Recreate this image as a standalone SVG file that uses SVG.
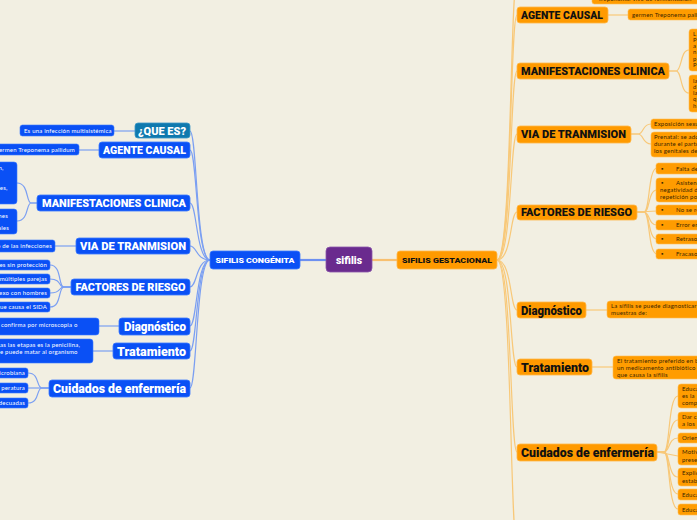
<svg xmlns="http://www.w3.org/2000/svg" width="697" height="520" viewBox="0 0 697 520">
<style>
.bg{fill:#f2efe2}
.nb{fill:#0a50f5;stroke:#3a78ff;stroke-width:0.8}
.nq{fill:#0f79ae;stroke:#3a98c8;stroke-width:0.8}
.no{fill:#ff9a00;stroke:#ffb84a;stroke-width:0.8}
.lb{fill:#0a50f5;stroke:#3a78ff;stroke-width:0.6}
.lo{fill:#ff9c00;stroke:#ffbd55;stroke-width:0.6}
.tw{font-family:Roboto,"Liberation Sans",sans-serif;font-weight:900;fill:#ffffff}
.tk{font-family:Roboto,"Liberation Sans",sans-serif;font-weight:900;fill:#111111}
.h{font-size:10.3px}
.b{font-size:12.5px}
.sw{font-family:Lato,"Liberation Sans",sans-serif;font-size:6px;fill:#ffffff;letter-spacing:0.2px}
.sk{font-family:Lato,"Liberation Sans",sans-serif;font-size:6px;fill:#3a2600;letter-spacing:0.2px}
.cb{fill:none;stroke:#7b9ff2;stroke-width:1.2}
.co{fill:none;stroke:#f8c878;stroke-width:1.2}
</style>
<rect class="bg" x="0" y="0" width="697" height="520"/>
<g id="connectors">
  <path d="M300 260 L326 260" stroke="#6d90f0" stroke-width="2.2" fill="none"/>
  <path d="M372 260 L397 260" stroke="#f8c070" stroke-width="2.2" fill="none"/>
  <path class="cb" d="M210 260 C196 260 197 131 190 131"/>
  <path class="cb" d="M210 260 C196 260 197 150 190 150"/>
  <path class="cb" d="M210 260 C196 260 197 203 190 203"/>
  <path class="cb" d="M210 260 C196 260 197 246 190 246"/>
  <path class="cb" d="M210 260 C196 260 197 287 190 287"/>
  <path class="cb" d="M210 260 C196 260 197 326 190 326"/>
  <path class="cb" d="M210 260 C196 260 197 351 190 351"/>
  <path class="cb" d="M210 260 C196 260 197 388 190 388"/>
  <path class="cb" d="M114 131 L135 131"/>
  <path class="cb" d="M79 150 L99 150"/>
  <path class="cb" d="M37 203 L31 203 C26 203 29 183 17 183"/>
  <path class="cb" d="M37 203 L31 203 C26 203 29 221 17 221"/>
  <path class="cb" d="M55 246 L76 246"/>
  <path class="cb" d="M71 287 L64 287 C58 287 62 265 50 265"/>
  <path class="cb" d="M71 287 L64 287 C58 287 62 279 50 279"/>
  <path class="cb" d="M71 287 L64 287 C58 287 62 293 50 293"/>
  <path class="cb" d="M71 287 L64 287 C58 287 62 307 50 307"/>
  <path class="cb" d="M99 326 L119 326"/>
  <path class="cb" d="M93 351 L113 351"/>
  <path class="cb" d="M49 388 L42 388 C36 388 40 373 28 373"/>
  <path class="cb" d="M49 388 L28 388"/>
  <path class="cb" d="M49 388 L42 388 C36 388 40 403 28 403"/>
  <path class="co" d="M497 260 C512 260 510 -20 517 -20"/>
  <path class="co" d="M497 260 C512 260 510 15 517 15"/>
  <path class="co" d="M497 260 C512 260 510 71 517 71"/>
  <path class="co" d="M497 260 C512 260 510 134 517 134"/>
  <path class="co" d="M497 260 C512 260 510 212 517 212"/>
  <path class="co" d="M497 260 C512 260 510 310 517 310"/>
  <path class="co" d="M497 260 C512 260 510 367 517 367"/>
  <path class="co" d="M497 260 C512 260 510 452 517 452"/>
  <path class="co" d="M497 260 C512 260 510 545 517 545"/>
  <path class="co" d="M608 15 L628 15"/>
  <path class="co" d="M669 71 L676 71 C682 71 680 50 689 50"/>
  <path class="co" d="M669 71 L676 71 C682 71 680 93 689 93"/>
  <path class="co" d="M631 134 L638 134 C644 134 642 124 651 124"/>
  <path class="co" d="M631 134 L638 134 C644 134 642 144 651 144"/>
  <path class="co" d="M637 212 L644 212 C650 212 648 168 657 168"/>
  <path class="co" d="M637 212 L644 212 C650 212 648 190 657 190"/>
  <path class="co" d="M637 212 L657 211"/>
  <path class="co" d="M637 212 L644 212 C650 212 648 225 657 225"/>
  <path class="co" d="M637 212 L644 212 C650 212 648 239 657 239"/>
  <path class="co" d="M637 212 L644 212 C650 212 648 254 657 254"/>
  <path class="co" d="M586 310 L607 310"/>
  <path class="co" d="M592 367 L613 367"/>
  <path class="co" d="M657 452 L664 452 C670 452 668 396 678 396"/>
  <path class="co" d="M657 452 L664 452 C670 452 668 420 678 420"/>
  <path class="co" d="M657 452 L664 452 C670 452 668 438 678 438"/>
  <path class="co" d="M657 452 L678 456"/>
  <path class="co" d="M657 452 L664 452 C670 452 668 477 678 477"/>
  <path class="co" d="M657 452 L664 452 C670 452 668 494 678 494"/>
  <path class="co" d="M657 452 L664 452 C670 452 668 509 678 509"/>
</g>
<g id="n-sifilis">
  <rect x="326" y="247" width="46" height="25" rx="4" fill="#6a2b8e" stroke="#8a55ab" stroke-width="0.8"/>
  <text class="tw" x="349" y="263.5" font-size="11" text-anchor="middle" textLength="26" lengthAdjust="spacingAndGlyphs">sifilis</text>
</g>
<g id="n-congenita">
  <rect class="nb" x="210" y="251" width="90" height="18" rx="3"/>
  <text class="tw" x="255" y="263" font-size="7.8" text-anchor="middle" textLength="79" lengthAdjust="spacingAndGlyphs">SIFILIS CONGÉNITA</text>
</g>
<g id="n-gestacional">
  <rect class="no" x="397" y="251" width="100" height="18" rx="3"/>
  <text class="tk" x="447" y="263" font-size="7.8" text-anchor="middle" textLength="90" lengthAdjust="spacingAndGlyphs">SIFILIS GESTACIONAL</text>
</g>
<!-- left nodes -->
<g id="l-quees">
  <rect class="nq" x="135" y="123" width="55" height="15" rx="3"/>
  <text class="tw h" x="162" y="134.5" text-anchor="middle" textLength="48" lengthAdjust="spacingAndGlyphs">¿QUE ES?</text>
</g>
<g id="l-quees-1">
  <rect class="lb" x="20" y="125" width="94" height="11" rx="2.5"/>
  <text class="sw" x="24" y="132.5">Es una infección multisistémica</text>
</g>
<g id="l-agente">
  <rect class="nb" x="99" y="142" width="91" height="16" rx="3"/>
  <text class="tw h" x="144.5" y="153.8" text-anchor="middle" textLength="83" lengthAdjust="spacingAndGlyphs">AGENTE CAUSAL</text>
</g>
<g id="l-agente-1">
  <rect class="lb" x="-10" y="144" width="89" height="11" rx="2.5"/>
  <text class="sw" x="75" y="151.5" text-anchor="end">germen Treponema pallidum</text>
</g>
<g id="l-manif">
  <rect class="nb" x="37" y="195" width="153" height="16" rx="3"/>
  <text class="tw h" x="114" y="206.8" text-anchor="middle" textLength="144" lengthAdjust="spacingAndGlyphs">MANIFESTACIONES CLINICA</text>
</g>
<g id="l-manif-1">
  <rect class="lb" x="-10" y="162" width="27" height="42" rx="3"/>
  <text class="sw" x="3.5" y="170" text-anchor="end">erupción,</text>
  <text class="sw" x="7.5" y="190" text-anchor="end">lesiones,</text>
</g>
<g id="l-manif-2">
  <rect class="lb" x="-10" y="209" width="27" height="25" rx="3"/>
  <text class="sw" x="8" y="218" text-anchor="end">convulsiones</text>
  <text class="sw" x="9" y="230" text-anchor="end">dentales</text>
</g>
<g id="l-via">
  <rect class="nb" x="76" y="238" width="114" height="16" rx="3"/>
  <text class="tw h" x="133" y="249.8" text-anchor="middle" textLength="106" lengthAdjust="spacingAndGlyphs">VIA DE TRANMISION</text>
</g>
<g id="l-via-1">
  <rect class="lb" x="-10" y="240" width="65" height="12" rx="2.5"/>
  <text class="sw" x="52" y="248" text-anchor="end">o de las infecciones</text>
</g>
<g id="l-factores">
  <rect class="nb" x="71" y="279" width="119" height="16" rx="3"/>
  <text class="tw h" x="130.5" y="290.8" text-anchor="middle" textLength="110" lengthAdjust="spacingAndGlyphs">FACTORES DE RIESGO</text>
</g>
<g id="l-factores-1">
  <rect class="lb" x="-10" y="260" width="60" height="10" rx="2.5"/>
  <text class="sw" x="47" y="267" text-anchor="end">es sin protección</text>
</g>
<g id="l-factores-2">
  <rect class="lb" x="-10" y="274" width="60" height="10" rx="2.5"/>
  <text class="sw" x="47" y="281" text-anchor="end">múltiples parejas</text>
</g>
<g id="l-factores-3">
  <rect class="lb" x="-10" y="288" width="60" height="10" rx="2.5"/>
  <text class="sw" x="47" y="295" text-anchor="end">exo con hombres</text>
</g>
<g id="l-factores-4">
  <rect class="lb" x="-10" y="302" width="60" height="10" rx="2.5"/>
  <text class="sw" x="47" y="309" text-anchor="end">ue causa el SIDA</text>
</g>
<g id="l-diag">
  <rect class="nb" x="119" y="318" width="71" height="17" rx="3"/>
  <text class="tw b" x="155" y="331" text-anchor="middle" textLength="62" lengthAdjust="spacingAndGlyphs">Diagnóstico</text>
</g>
<g id="l-diag-1">
  <rect class="lb" x="-10" y="318" width="109" height="17" rx="3"/>
  <text class="sw" x="1" y="327">confirma por microscopia o</text>
</g>
<g id="l-trat">
  <rect class="nb" x="113" y="343" width="77" height="16" rx="3"/>
  <text class="tw b" x="151.5" y="355.5" text-anchor="middle" textLength="69" lengthAdjust="spacingAndGlyphs">Tratamiento</text>
</g>
<g id="l-trat-1">
  <rect class="lb" x="-10" y="339" width="103" height="24" rx="3"/>
  <text class="sw" x="0" y="347">as las etapas es la penicilina,</text>
  <text class="sw" x="0" y="354">e puede matar al organismo</text>
</g>
<g id="l-cuid">
  <rect class="nb" x="49" y="380" width="141" height="17" rx="3"/>
  <text class="tw b" x="119.5" y="393" text-anchor="middle" textLength="133" lengthAdjust="spacingAndGlyphs">Cuidados de enfermería</text>
</g>
<g id="l-cuid-1">
  <rect class="lb" x="-10" y="368" width="38" height="10" rx="2.5"/>
  <text class="sw" x="25" y="375" text-anchor="end">icrobiana</text>
</g>
<g id="l-cuid-2">
  <rect class="lb" x="-10" y="383" width="38" height="10" rx="2.5"/>
  <text class="sw" x="25" y="390" text-anchor="end">peratura</text>
</g>
<g id="l-cuid-3">
  <rect class="lb" x="-10" y="398" width="38" height="10" rx="2.5"/>
  <text class="sw" x="25" y="405" text-anchor="end">decuadas</text>
</g>
<!-- right nodes -->
<g id="r-quees-1">
  <rect class="lo" x="592" y="-10" width="120" height="14" rx="2.5"/>
  <text class="sk" x="598" y="1">Treponema: vive de fermentación</text>
</g>
<g id="r-agente">
  <rect class="no" x="517" y="7" width="91" height="16" rx="3"/>
  <text class="tk h" x="562" y="18.8" text-anchor="middle" textLength="82" lengthAdjust="spacingAndGlyphs">AGENTE CAUSAL</text>
</g>
<g id="r-agente-1">
  <rect class="lo" x="628" y="9" width="80" height="11" rx="2.5"/>
  <text class="sk" x="632" y="16.5">germen Treponema pallidum</text>
</g>
<g id="r-manif">
  <rect class="no" x="517" y="63" width="152" height="16" rx="3"/>
  <text class="tk h" x="593" y="74.8" text-anchor="middle" textLength="144" lengthAdjust="spacingAndGlyphs">MANIFESTACIONES CLINICA</text>
</g>
<g id="r-manif-1">
  <rect class="lo" x="689" y="29" width="20" height="42" rx="3"/>
  <text class="sk" x="693" y="36">L</text>
  <text class="sk" x="693" y="42">P</text>
  <text class="sk" x="693" y="48">a</text>
  <text class="sk" x="693" y="54">n</text>
  <text class="sk" x="693" y="61">p</text>
  <text class="sk" x="693" y="67">P</text>
</g>
<g id="r-manif-2">
  <rect class="lo" x="689" y="75" width="20" height="37" rx="3"/>
  <text class="sk" x="693" y="83">la</text>
  <text class="sk" x="693" y="89">d</text>
  <text class="sk" x="693" y="95">la</text>
  <text class="sk" x="693" y="101">q</text>
  <text class="sk" x="693" y="108">h</text>
</g>
<g id="r-via">
  <rect class="no" x="517" y="126" width="114" height="17" rx="3"/>
  <text class="tk h" x="573.5" y="138.3" text-anchor="middle" textLength="105" lengthAdjust="spacingAndGlyphs">VIA DE TRANMISION</text>
</g>
<g id="r-via-1">
  <rect class="lo" x="651" y="119" width="60" height="10" rx="2.5"/>
  <text class="sk" x="654" y="126">Exposición sexual</text>
</g>
<g id="r-via-2">
  <rect class="lo" x="651" y="132" width="60" height="25" rx="3"/>
  <text class="sk" x="654" y="139">Prenatal: se adquiere</text>
  <text class="sk" x="654" y="146">durante el parto</text>
  <text class="sk" x="654" y="153">los genitales de</text>
</g>
<g id="r-factores">
  <rect class="no" x="517" y="205" width="120" height="15" rx="3"/>
  <text class="tk h" x="576.5" y="216.3" text-anchor="middle" textLength="111" lengthAdjust="spacingAndGlyphs">FACTORES DE RIESGO</text>
</g>
<g id="r-factores-1">
  <rect class="lo" x="656" y="163" width="50" height="11" rx="2.5"/>
  <text class="sk" x="661" y="170.5">▪</text><text class="sk" x="676" y="170.5">Falta de</text>
</g>
<g id="r-factores-2">
  <rect class="lo" x="656" y="178" width="50" height="24" rx="3"/>
  <text class="sk" x="661" y="185">▪</text><text class="sk" x="676" y="185">Asistencia</text>
  <text class="sk" x="660" y="192">negatividad de</text>
  <text class="sk" x="660" y="199">repetición por</text>
</g>
<g id="r-factores-3">
  <rect class="lo" x="656" y="205" width="50" height="10" rx="2.5"/>
  <text class="sk" x="661" y="212">▪</text><text class="sk" x="676" y="212">No se realiza</text>
</g>
<g id="r-factores-4">
  <rect class="lo" x="656" y="220" width="50" height="10" rx="2.5"/>
  <text class="sk" x="661" y="227">▪</text><text class="sk" x="676" y="227">Error en</text>
</g>
<g id="r-factores-5">
  <rect class="lo" x="656" y="234" width="50" height="10" rx="2.5"/>
  <text class="sk" x="661" y="241">▪</text><text class="sk" x="676" y="241">Retraso</text>
</g>
<g id="r-factores-6">
  <rect class="lo" x="656" y="249" width="50" height="10" rx="2.5"/>
  <text class="sk" x="661" y="256">▪</text><text class="sk" x="676" y="256">Fracaso</text>
</g>
<g id="r-diag">
  <rect class="no" x="517" y="302" width="69" height="16" rx="3"/>
  <text class="tk b" x="551.5" y="314.5" text-anchor="middle" textLength="61" lengthAdjust="spacingAndGlyphs">Diagnóstico</text>
</g>
<g id="r-diag-1">
  <rect class="lo" x="607" y="301" width="100" height="17" rx="3"/>
  <text class="sk" x="611" y="308">La sífilis se puede diagnosticar</text>
  <text class="sk" x="611" y="315">muestras de:</text>
</g>
<g id="r-trat">
  <rect class="no" x="517" y="359" width="75" height="16" rx="3"/>
  <text class="tk b" x="555" y="371.5" text-anchor="middle" textLength="68" lengthAdjust="spacingAndGlyphs">Tratamiento</text>
</g>
<g id="r-trat-1">
  <rect class="lo" x="613" y="356" width="95" height="23" rx="3"/>
  <text class="sk" x="617" y="362.5">El tratamiento preferido en b</text>
  <text class="sk" x="617" y="369.5">un medicamento antibiótico</text>
  <text class="sk" x="617" y="376.5">que causa la sífilis</text>
</g>
<g id="r-cuid">
  <rect class="no" x="517" y="444" width="140" height="17" rx="3"/>
  <text class="tk b" x="587.5" y="457" text-anchor="middle" textLength="133" lengthAdjust="spacingAndGlyphs">Cuidados de enfermería</text>
</g>
<g id="r-cuid-1"><rect class="lo" x="678" y="384" width="30" height="24" rx="3"/>
  <text class="sk" x="682" y="391">Educa</text><text class="sk" x="682" y="398">es la</text><text class="sk" x="682" y="405">comp</text></g>
<g id="r-cuid-2"><rect class="lo" x="678" y="412" width="30" height="17" rx="3"/>
  <text class="sk" x="682" y="419">Dar c</text><text class="sk" x="682" y="426">a los</text></g>
<g id="r-cuid-3"><rect class="lo" x="678" y="433" width="30" height="10" rx="2.5"/>
  <text class="sk" x="682" y="440">Orien</text></g>
<g id="r-cuid-4"><rect class="lo" x="678" y="447" width="30" height="18" rx="3"/>
  <text class="sk" x="682" y="454">Motiv</text><text class="sk" x="682" y="461.5">prese</text></g>
<g id="r-cuid-5"><rect class="lo" x="678" y="468" width="30" height="18" rx="3"/>
  <text class="sk" x="682" y="475">Explic</text><text class="sk" x="682" y="482.5">estab</text></g>
<g id="r-cuid-6"><rect class="lo" x="678" y="489" width="30" height="11" rx="2.5"/>
  <text class="sk" x="682" y="496.5">Educa</text></g>
<g id="r-cuid-7"><rect class="lo" x="678" y="504" width="30" height="11" rx="2.5"/>
  <text class="sk" x="682" y="511.5">Educa</text></g>
</svg>
